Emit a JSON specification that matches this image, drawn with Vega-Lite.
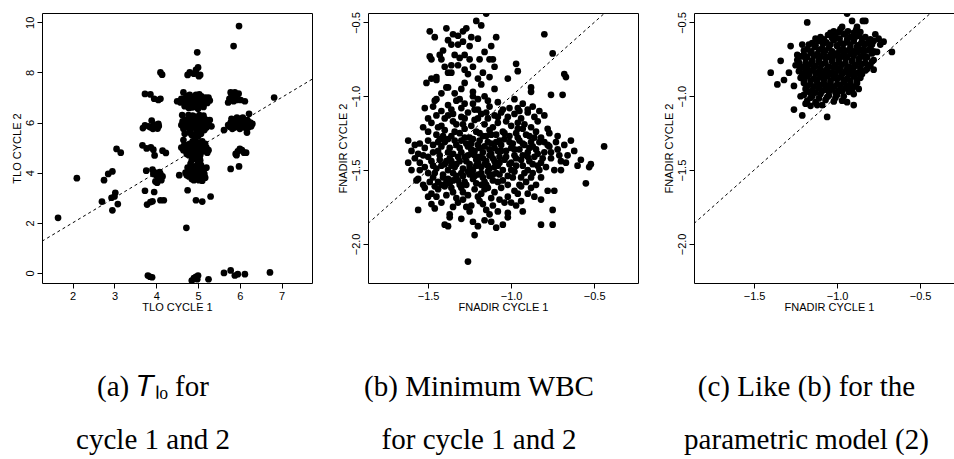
{
"$schema": "https://vega.github.io/schema/vega-lite/v6.json",
"padding": {"left": 10, "top": 11, "right": 0, "bottom": 0},
"background": "white",
"config": {
 "view": {"stroke": "black", "strokeWidth": 1},
 "axis": {"domain": false, "grid": false, "tickColor": "black", "tickSize": 5, "tickWidth": 1, "labelFont": "Liberation Sans", "labelFontSize": 11, "labelColor": "black", "titleFont": "Liberation Sans", "titleFontSize": 11, "titleFontWeight": "normal", "titleColor": "black", "labelFlush": false, "labelOverlap": false, "domainColor": "black", "domainWidth": 1},
 "axisX": {"labelPadding": 2.5, "titlePadding": 0, "labelAngle": 0},
 "axisY": {"labelAngle": -90, "labelAlign": "center", "labelBaseline": "bottom", "labelPadding": 2, "titlePadding": 1.5},
 "title": {"font": "Liberation Serif", "fontSize": 29, "fontWeight": "normal", "color": "black", "orient": "bottom", "anchor": "middle", "dx": -24, "offset": 60, "lineHeight": 53}
},
"datasets": {
 "a": [
{"x":1.65,"y":2.2},{"x":2.1,"y":3.78},{"x":2.7,"y":2.85},{"x":2.75,"y":3.7},{"x":2.85,"y":3.95},{"x":2.95,"y":4.05},{"x":2.95,"y":2.5},{"x":2.93,"y":3.0},{"x":3.0,"y":3.05},{"x":3.02,"y":3.2},{"x":3.05,"y":4.95},{"x":3.08,"y":2.75},{"x":3.15,"y":4.8},
{"x":3.73,"y":7.14},{"x":3.86,"y":7.12},{"x":3.95,"y":6.95},{"x":4.05,"y":6.9},{"x":4.1,"y":6.95},{"x":4.1,"y":8.0},{"x":4.14,"y":7.91},
{"x":3.68,"y":5.78},{"x":3.73,"y":5.89},{"x":3.86,"y":5.81},{"x":3.89,"y":6.08},{"x":3.92,"y":5.75},{"x":3.95,"y":5.92},{"x":4.03,"y":5.76},{"x":4.06,"y":5.86},{"x":3.99,"y":5.84},
{"x":3.67,"y":5.09},{"x":3.77,"y":4.97},{"x":3.87,"y":5.01},{"x":3.93,"y":4.92},{"x":3.96,"y":4.69},{"x":4.15,"y":4.88},{"x":4.23,"y":4.79},
{"x":3.76,"y":4.08},{"x":3.91,"y":4.12},{"x":3.95,"y":4.02},{"x":4.0,"y":3.9},{"x":4.02,"y":3.6},{"x":4.05,"y":3.85},{"x":4.1,"y":3.95},{"x":4.12,"y":3.7},{"x":4.15,"y":3.85},{"x":3.98,"y":3.65},{"x":4.08,"y":4.02},
{"x":3.73,"y":3.28},{"x":3.95,"y":3.23},{"x":3.78,"y":2.73},{"x":3.86,"y":2.83},{"x":3.91,"y":2.86},{"x":4.1,"y":2.9},{"x":4.18,"y":2.9},
{"x":3.8,"y":-0.1},{"x":3.85,"y":-0.15},{"x":3.9,"y":-0.17},
{"x":4.75,"y":7.9},{"x":4.8,"y":8.0},{"x":4.9,"y":7.95},{"x":4.95,"y":8.1},{"x":5.0,"y":8.2},{"x":5.02,"y":7.85},{"x":5.05,"y":7.9},{"x":4.98,"y":8.8},
{"x":4.5,"y":6.85},{"x":4.6,"y":6.95},{"x":4.65,"y":7.2},{"x":4.7,"y":6.8},{"x":4.72,"y":7.05},{"x":4.75,"y":6.9},{"x":4.78,"y":6.75},{"x":4.8,"y":7.1},{"x":4.82,"y":6.95},{"x":4.85,"y":6.85},{"x":4.88,"y":7.0},{"x":4.9,"y":6.7},{"x":4.92,"y":6.9},{"x":4.95,"y":7.1},{"x":4.97,"y":6.8},{"x":5.0,"y":7.0},{"x":5.02,"y":6.65},{"x":5.05,"y":6.9},{"x":5.08,"y":7.05},{"x":5.1,"y":6.8},{"x":5.12,"y":6.95},{"x":5.15,"y":6.75},{"x":5.18,"y":7.0},{"x":5.2,"y":6.9},{"x":5.25,"y":7.0},{"x":4.68,"y":6.65},{"x":4.85,"y":6.6},{"x":5.0,"y":6.55},{"x":5.05,"y":6.75},{"x":4.95,"y":6.95},
{"x":4.6,"y":5.9},{"x":4.62,"y":6.3},{"x":4.65,"y":5.75},{"x":4.7,"y":6.1},{"x":4.72,"y":5.95},{"x":4.75,"y":5.85},{"x":4.78,"y":6.2},{"x":4.8,"y":6.0},{"x":4.82,"y":5.7},{"x":4.85,"y":6.1},{"x":4.88,"y":5.9},{"x":4.9,"y":6.25},{"x":4.92,"y":5.8},{"x":4.95,"y":6.0},{"x":4.97,"y":5.65},{"x":5.0,"y":6.1},{"x":5.02,"y":5.9},{"x":5.05,"y":6.2},{"x":5.08,"y":5.75},{"x":5.1,"y":6.0},{"x":5.12,"y":5.85},{"x":5.15,"y":6.15},{"x":5.18,"y":5.95},{"x":5.2,"y":5.8},{"x":5.22,"y":6.1},{"x":5.25,"y":5.9},{"x":5.32,"y":5.85},{"x":4.68,"y":5.55},{"x":4.85,"y":5.5},{"x":5.0,"y":5.45},{"x":4.75,"y":6.0},{"x":4.9,"y":5.95},{"x":5.05,"y":6.05},{"x":5.15,"y":5.7},{"x":4.8,"y":5.6},
{"x":4.6,"y":5.0},{"x":4.65,"y":4.9},{"x":4.7,"y":5.1},{"x":4.72,"y":4.85},{"x":4.75,"y":5.0},{"x":4.78,"y":4.7},{"x":4.8,"y":5.15},{"x":4.82,"y":4.9},{"x":4.85,"y":5.05},{"x":4.88,"y":4.75},{"x":4.9,"y":5.2},{"x":4.92,"y":4.95},{"x":4.95,"y":4.8},{"x":4.97,"y":5.1},{"x":5.0,"y":4.9},{"x":5.02,"y":5.2},{"x":5.05,"y":4.7},{"x":5.08,"y":5.0},{"x":5.1,"y":4.85},{"x":5.12,"y":5.1},{"x":5.15,"y":4.95},{"x":5.2,"y":5.0},{"x":5.25,"y":4.9},{"x":4.85,"y":4.5},{"x":4.95,"y":4.55},{"x":5.0,"y":4.3},{"x":5.05,"y":4.5},{"x":4.65,"y":5.3},
{"x":4.55,"y":3.9},{"x":4.7,"y":4.0},{"x":4.75,"y":4.2},{"x":4.78,"y":3.85},{"x":4.8,"y":4.05},{"x":4.85,"y":3.75},{"x":4.88,"y":4.1},{"x":4.9,"y":3.9},{"x":4.92,"y":4.25},{"x":4.95,"y":3.8},{"x":5.0,"y":4.0},{"x":5.02,"y":3.7},{"x":5.05,"y":4.15},{"x":5.08,"y":3.9},{"x":5.1,"y":4.05},{"x":5.15,"y":3.95},{"x":5.2,"y":4.2},{"x":5.1,"y":3.68},{"x":4.82,"y":4.35},{"x":5.0,"y":4.45},
{"x":4.75,"y":3.3},{"x":4.95,"y":2.9},{"x":5.1,"y":2.85},{"x":5.3,"y":3.05},{"x":4.72,"y":1.8},
{"x":4.85,"y":-0.3},{"x":4.9,"y":-0.2},{"x":4.95,"y":-0.15},{"x":5.0,"y":-0.1},{"x":4.98,"y":-0.25},{"x":5.25,"y":-0.25},
{"x":5.85,"y":9.05},{"x":5.98,"y":9.85},
{"x":5.72,"y":6.8},{"x":5.78,"y":7.2},{"x":5.82,"y":7.0},{"x":5.85,"y":6.85},{"x":5.9,"y":7.05},{"x":5.97,"y":7.15},{"x":6.02,"y":6.9},{"x":6.12,"y":6.85},{"x":5.75,"y":6.95},
{"x":5.62,"y":5.7},{"x":5.75,"y":5.85},{"x":5.78,"y":6.0},{"x":5.8,"y":5.9},{"x":5.85,"y":6.1},{"x":5.88,"y":5.95},{"x":5.9,"y":6.05},{"x":5.95,"y":5.9},{"x":5.98,"y":6.15},{"x":6.0,"y":6.0},{"x":6.02,"y":5.85},{"x":6.05,"y":6.1},{"x":6.08,"y":5.95},{"x":6.1,"y":6.05},{"x":6.15,"y":5.9},{"x":6.18,"y":6.1},{"x":6.2,"y":5.8},{"x":6.22,"y":6.35},{"x":6.25,"y":6.0},{"x":6.3,"y":5.95},{"x":6.17,"y":5.6},{"x":5.82,"y":5.75},
{"x":5.9,"y":4.75},{"x":5.95,"y":4.85},{"x":6.0,"y":4.95},{"x":6.05,"y":4.9},{"x":6.1,"y":4.8},{"x":6.15,"y":4.8},{"x":5.92,"y":4.7},
{"x":5.78,"y":4.15},{"x":5.98,"y":4.25},
{"x":5.62,"y":0.0},{"x":5.78,"y":0.1},{"x":5.88,"y":-0.1},{"x":5.95,"y":-0.05},{"x":6.12,"y":-0.05},{"x":6.72,"y":0.02},{"x":6.82,"y":7.0},
{"x":4.58,"y":6.8},{"x":4.66,"y":6.88},{"x":4.74,"y":7.0},{"x":4.86,"y":6.78},{"x":4.93,"y":6.62},{"x":5.03,"y":7.12},{"x":5.13,"y":6.62},{"x":5.22,"y":6.78},{"x":5.28,"y":6.88},{"x":4.78,"y":6.58},
{"x":4.63,"y":6.05},{"x":4.7,"y":5.8},{"x":4.77,"y":6.3},{"x":4.83,"y":5.85},{"x":4.87,"y":6.28},{"x":4.93,"y":6.12},{"x":4.98,"y":5.78},{"x":5.03,"y":6.3},{"x":5.07,"y":5.92},{"x":5.13,"y":6.28},{"x":5.17,"y":5.82},{"x":5.23,"y":6.0},{"x":5.28,"y":6.1},{"x":4.95,"y":5.55},{"x":5.07,"y":5.55},
{"x":4.67,"y":5.1},{"x":4.73,"y":4.75},{"x":4.8,"y":4.85},{"x":4.87,"y":5.25},{"x":4.9,"y":4.6},{"x":4.97,"y":4.98},{"x":5.03,"y":5.0},{"x":5.07,"y":4.85},{"x":5.1,"y":5.25},{"x":5.17,"y":5.15},{"x":5.22,"y":4.8},{"x":4.93,"y":5.35},{"x":5.03,"y":4.6},
{"x":4.73,"y":3.9},{"x":4.83,"y":4.18},{"x":4.87,"y":3.95},{"x":4.93,"y":4.05},{"x":4.97,"y":4.2},{"x":5.03,"y":3.85},{"x":5.07,"y":4.3},{"x":5.13,"y":4.12},{"x":5.17,"y":3.8},{"x":4.9,"y":3.7},
{"x":5.8,"y":6.15},{"x":5.87,"y":5.8},{"x":5.93,"y":6.2},{"x":6.03,"y":5.95},{"x":6.07,"y":6.2},{"x":6.12,"y":5.8},{"x":6.22,"y":6.0},{"x":6.27,"y":5.85},{"x":5.72,"y":5.9},{"x":5.95,"y":6.05},{"x":6.0,"y":5.75},
{"x":5.8,"y":7.05},{"x":5.93,"y":6.9},{"x":5.88,"y":7.2},{"x":4.05,"y":5.95},{"x":3.82,"y":5.85},{"x":4.05,"y":3.75},{"x":3.93,"y":3.95}
 ],
 "b": [
{"x":-1.15,"y":-0.44},{"x":-1.49,"y":-0.56},{"x":-1.39,"y":-0.54},{"x":-1.32,"y":-0.59},{"x":-1.27,"y":-0.54},{"x":-1.21,"y":-0.49},{"x":-1.18,"y":-0.52},{"x":-1.29,"y":-0.56},{"x":-1.24,"y":-0.6},{"x":-1.2,"y":-0.61},{"x":-1.32,"y":-0.65},{"x":-1.36,"y":-0.65},{"x":-1.38,"y":-0.62},{"x":-1.29,"y":-0.63},{"x":-1.12,"y":-0.66},{"x":-1.09,"y":-0.6},{"x":-0.8,"y":-0.58},
{"x":-1.43,"y":-0.72},{"x":-1.42,"y":-0.75},{"x":-1.49,"y":-0.73},{"x":-1.48,"y":-0.75},{"x":-1.41,"y":-0.69},{"x":-1.34,"y":-0.72},{"x":-1.31,"y":-0.74},{"x":-1.28,"y":-0.72},{"x":-1.25,"y":-0.75},{"x":-1.19,"y":-0.75},{"x":-1.13,"y":-0.75},{"x":-1.11,"y":-0.75},{"x":-0.75,"y":-0.71},{"x":-0.97,"y":-0.78},
{"x":-1.36,"y":-0.79},{"x":-1.32,"y":-0.79},{"x":-1.23,"y":-0.8},{"x":-1.1,"y":-0.8},{"x":-0.96,"y":-0.83},{"x":-1.51,"y":-0.91},{"x":-1.48,"y":-0.88},{"x":-1.45,"y":-0.87},{"x":-1.45,"y":-0.89},{"x":-1.38,"y":-0.84},{"x":-1.36,"y":-0.84},{"x":-1.26,"y":-0.85},{"x":-1.2,"y":-0.88},{"x":-1.17,"y":-0.84},{"x":-1.13,"y":-0.87},{"x":-1.02,"y":-0.88},{"x":-1.28,"y":-0.91},{"x":-0.68,"y":-0.85},{"x":-0.67,"y":-0.87},
{"x":-1.39,"y":-0.94},{"x":-1.38,"y":-0.94},{"x":-1.23,"y":-0.97},{"x":-1.34,"y":-0.98},{"x":-0.88,"y":-0.97},{"x":-0.88,"y":-0.94},{"x":-0.76,"y":-0.99},{"x":-0.69,"y":-0.99},{"x":-1.45,"y":-1.02},{"x":-1.46,"y":-1.03},{"x":-1.23,"y":-1.0},{"x":-1.16,"y":-1.0},{"x":-1.31,"y":-1.02},{"x":-1.28,"y":-1.05},{"x":-1.38,"y":-1.06},{"x":-1.14,"y":-1.03},{"x":-1.23,"y":-1.05},{"x":-1.52,"y":-1.08},{"x":-1.36,"y":-1.09},{"x":-1.3,"y":-1.08},{"x":-1.2,"y":-1.09},{"x":-1.13,"y":-1.07},{"x":-0.93,"y":-1.05},{"x":-1.05,"y":-1.09},{"x":-1.01,"y":-1.08},{"x":-0.96,"y":-1.08},{"x":-0.9,"y":-1.09},
{"x":-1.45,"y":-1.13},{"x":-1.4,"y":-1.15},{"x":-1.35,"y":-1.12},{"x":-1.3,"y":-1.14},{"x":-1.26,"y":-1.11},{"x":-1.22,"y":-1.16},{"x":-1.18,"y":-1.12},{"x":-1.14,"y":-1.15},{"x":-1.1,"y":-1.13},{"x":-1.06,"y":-1.11},{"x":-1.02,"y":-1.14},{"x":-0.98,"y":-1.12},{"x":-0.94,"y":-1.15},{"x":-0.9,"y":-1.11},{"x":-0.86,"y":-1.14},{"x":-0.8,"y":-1.13},{"x":-1.48,"y":-1.18},{"x":-1.33,"y":-1.19},{"x":-1.24,"y":-1.2},{"x":-1.16,"y":-1.19},{"x":-1.08,"y":-1.18},{"x":-1.0,"y":-1.2},{"x":-0.92,"y":-1.19},{"x":-0.84,"y":-1.17},{"x":-1.53,"y":-1.21},{"x":-1.42,"y":-1.2},{"x":-0.78,"y":-1.22},{"x":-0.77,"y":-1.25},
{"x":-1.5,"y":-1.24},{"x":-1.45,"y":-1.26},{"x":-1.4,"y":-1.23},{"x":-1.36,"y":-1.27},{"x":-1.31,"y":-1.25},{"x":-1.28,"y":-1.22},{"x":-1.25,"y":-1.28},{"x":-1.21,"y":-1.24},{"x":-1.17,"y":-1.27},{"x":-1.13,"y":-1.23},{"x":-1.09,"y":-1.26},{"x":-1.05,"y":-1.24},{"x":-1.01,"y":-1.27},{"x":-0.97,"y":-1.25},{"x":-0.93,"y":-1.22},{"x":-0.89,"y":-1.27},{"x":-0.85,"y":-1.24},{"x":-0.82,"y":-1.28},{"x":-1.43,"y":-1.29},{"x":-1.19,"y":-1.3},{"x":-1.07,"y":-1.3},{"x":-0.95,"y":-1.3},
{"x":-1.62,"y":-1.3},{"x":-1.55,"y":-1.32},{"x":-1.52,"y":-1.35},{"x":-1.47,"y":-1.33},{"x":-1.44,"y":-1.37},{"x":-1.4,"y":-1.31},{"x":-1.37,"y":-1.35},{"x":-1.33,"y":-1.33},{"x":-1.3,"y":-1.38},{"x":-1.27,"y":-1.32},{"x":-1.24,"y":-1.36},{"x":-1.2,"y":-1.33},{"x":-1.17,"y":-1.38},{"x":-1.14,"y":-1.31},{"x":-1.1,"y":-1.35},{"x":-1.06,"y":-1.33},{"x":-1.03,"y":-1.37},{"x":-0.99,"y":-1.32},{"x":-0.95,"y":-1.36},{"x":-0.92,"y":-1.33},{"x":-0.88,"y":-1.31},{"x":-0.85,"y":-1.36},{"x":-0.8,"y":-1.31},{"x":-0.77,"y":-1.34},{"x":-0.73,"y":-1.31},{"x":-0.68,"y":-1.33},{"x":-0.64,"y":-1.3},{"x":-0.44,"y":-1.34},{"x":-1.6,"y":-1.37},{"x":-1.35,"y":-1.39},{"x":-1.22,"y":-1.4},{"x":-1.12,"y":-1.39},{"x":-0.98,"y":-1.4},{"x":-0.9,"y":-1.38},
{"x":-1.58,"y":-1.42},{"x":-1.55,"y":-1.45},{"x":-1.5,"y":-1.41},{"x":-1.47,"y":-1.47},{"x":-1.43,"y":-1.43},{"x":-1.4,"y":-1.46},{"x":-1.37,"y":-1.42},{"x":-1.34,"y":-1.48},{"x":-1.31,"y":-1.44},{"x":-1.28,"y":-1.41},{"x":-1.25,"y":-1.46},{"x":-1.21,"y":-1.43},{"x":-1.18,"y":-1.48},{"x":-1.15,"y":-1.44},{"x":-1.11,"y":-1.42},{"x":-1.08,"y":-1.47},{"x":-1.04,"y":-1.43},{"x":-1.01,"y":-1.46},{"x":-0.97,"y":-1.42},{"x":-0.93,"y":-1.47},{"x":-0.89,"y":-1.44},{"x":-0.86,"y":-1.41},{"x":-0.82,"y":-1.45},{"x":-0.76,"y":-1.42},{"x":-0.71,"y":-1.4},{"x":-0.7,"y":-1.44},{"x":-0.67,"y":-1.45},{"x":-0.6,"y":-1.47},{"x":-0.52,"y":-1.46},{"x":-1.45,"y":-1.49},{"x":-1.38,"y":-1.5},{"x":-1.23,"y":-1.5},{"x":-1.13,"y":-1.49},{"x":-1.0,"y":-1.5},
{"x":-1.62,"y":-1.45},{"x":-1.56,"y":-1.56},{"x":-1.5,"y":-1.52},{"x":-1.47,"y":-1.55},{"x":-1.44,"y":-1.58},{"x":-1.41,"y":-1.53},{"x":-1.38,"y":-1.56},{"x":-1.35,"y":-1.52},{"x":-1.32,"y":-1.57},{"x":-1.29,"y":-1.54},{"x":-1.26,"y":-1.51},{"x":-1.23,"y":-1.56},{"x":-1.2,"y":-1.53},{"x":-1.16,"y":-1.58},{"x":-1.13,"y":-1.54},{"x":-1.09,"y":-1.52},{"x":-1.05,"y":-1.57},{"x":-1.02,"y":-1.54},{"x":-0.98,"y":-1.51},{"x":-0.94,"y":-1.55},{"x":-0.91,"y":-1.58},{"x":-0.87,"y":-1.52},{"x":-0.82,"y":-1.55},{"x":-0.74,"y":-1.5},{"x":-0.53,"y":-1.48},{"x":-0.55,"y":-1.59},{"x":-1.57,"y":-1.57},{"x":-1.42,"y":-1.6},{"x":-1.31,"y":-1.6},{"x":-1.18,"y":-1.6},
{"x":-1.52,"y":-1.62},{"x":-1.48,"y":-1.66},{"x":-1.44,"y":-1.63},{"x":-1.4,"y":-1.61},{"x":-1.35,"y":-1.65},{"x":-1.3,"y":-1.62},{"x":-1.26,"y":-1.67},{"x":-1.22,"y":-1.63},{"x":-1.18,"y":-1.66},{"x":-1.14,"y":-1.62},{"x":-1.1,"y":-1.65},{"x":-1.06,"y":-1.62},{"x":-1.02,"y":-1.68},{"x":-0.98,"y":-1.64},{"x":-0.94,"y":-1.61},{"x":-0.9,"y":-1.66},{"x":-1.5,"y":-1.68},{"x":-1.33,"y":-1.69},{"x":-0.78,"y":-1.64},{"x":-0.74,"y":-1.64},
{"x":-1.56,"y":-1.77},{"x":-1.48,"y":-1.73},{"x":-1.46,"y":-1.76},{"x":-1.37,"y":-1.8},{"x":-1.32,"y":-1.72},{"x":-1.27,"y":-1.75},{"x":-1.24,"y":-1.74},{"x":-1.19,"y":-1.71},{"x":-1.15,"y":-1.77},{"x":-1.11,"y":-1.74},{"x":-1.08,"y":-1.78},{"x":-1.04,"y":-1.72},{"x":-0.97,"y":-1.74},{"x":-0.94,"y":-1.71},{"x":-0.82,"y":-1.7},{"x":-0.75,"y":-1.77},{"x":-1.02,"y":-1.79},
{"x":-1.37,"y":-1.82},{"x":-1.4,"y":-1.87},{"x":-1.38,"y":-1.88},{"x":-1.23,"y":-1.85},{"x":-1.2,"y":-1.88},{"x":-1.12,"y":-1.85},{"x":-1.09,"y":-1.89},{"x":-1.02,"y":-1.82},{"x":-1.05,"y":-1.87},{"x":-0.82,"y":-1.87},{"x":-0.75,"y":-1.87},{"x":-1.22,"y":-1.94},{"x":-1.26,"y":-2.12},
{"x":-1.43,"y":-1.4},{"x":-1.39,"y":-1.44},{"x":-1.36,"y":-1.47},{"x":-1.32,"y":-1.41},{"x":-1.29,"y":-1.49},{"x":-1.27,"y":-1.44},{"x":-1.24,"y":-1.39},{"x":-1.21,"y":-1.47},{"x":-1.19,"y":-1.41},{"x":-1.16,"y":-1.46},{"x":-1.13,"y":-1.4},{"x":-1.1,"y":-1.48},{"x":-1.07,"y":-1.41},{"x":-1.41,"y":-1.55},{"x":-1.37,"y":-1.59},{"x":-1.33,"y":-1.54},{"x":-1.28,"y":-1.58},{"x":-1.25,"y":-1.53},{"x":-1.21,"y":-1.59},{"x":-1.17,"y":-1.55},{"x":-1.14,"y":-1.51},{"x":-1.11,"y":-1.57},{"x":-1.07,"y":-1.53},{"x":-1.42,"y":-1.34},{"x":-1.38,"y":-1.29},{"x":-1.34,"y":-1.24},{"x":-1.3,"y":-1.3},{"x":-1.26,"y":-1.34},{"x":-1.23,"y":-1.29},{"x":-1.19,"y":-1.35},{"x":-1.15,"y":-1.27},{"x":-1.12,"y":-1.32},{"x":-1.08,"y":-1.37},{"x":-1.04,"y":-1.29},{"x":-1.0,"y":-1.35},{"x":-0.96,"y":-1.28},{"x":-0.93,"y":-1.4},{"x":-0.9,"y":-1.5},{"x":-0.87,"y":-1.34},{"x":-0.84,"y":-1.47},{"x":-0.8,"y":-1.38},{"x":-1.46,"y":-1.61},{"x":-1.39,"y":-1.67},{"x":-1.36,"y":-1.62},{"x":-1.29,"y":-1.65},{"x":-1.2,"y":-1.68},{"x":-1.16,"y":-1.63},{"x":-1.12,"y":-1.69},{"x":-1.53,"y":-1.4},{"x":-1.55,"y":-1.5},{"x":-1.49,"y":-1.58},{"x":-1.52,"y":-1.48},{"x":-1.47,"y":-1.38},{"x":-1.5,"y":-1.3},{"x":-1.44,"y":-1.21},{"x":-1.35,"y":-1.17},{"x":-1.29,"y":-1.19},{"x":-1.2,"y":-1.15},{"x":-1.11,"y":-1.21},{"x":-1.03,"y":-1.17},{"x":-0.96,"y":-1.18},{"x":-0.88,"y":-1.21},{"x":-0.83,"y":-1.31},
{"x":-1.46,"y":-0.6},{"x":-1.35,"y":-0.58},{"x":-1.25,"y":-0.66},{"x":-1.16,"y":-0.7},{"x":-1.4,"y":-0.8},{"x":-1.28,"y":-0.82},{"x":-1.18,"y":-0.92},{"x":-1.1,"y":-0.95},{"x":-1.42,"y":-0.98},{"x":-1.3,"y":-0.95},{"x":-1.2,"y":-1.02},{"x":-1.08,"y":-1.04},{"x":-0.98,"y":-1.02},{"x":-1.47,"y":-1.07},{"x":-1.42,"y":-1.1},{"x":-1.33,"y":-1.03},
{"x":-1.58,"y":-1.33},{"x":-1.56,"y":-1.39},{"x":-1.6,"y":-1.5},{"x":-1.53,"y":-1.6},{"x":-1.48,"y":-1.44},{"x":-1.46,"y":-1.52},{"x":-1.44,"y":-1.31},{"x":-1.42,"y":-1.47},{"x":-1.41,"y":-1.27},{"x":-1.39,"y":-1.58},{"x":-1.38,"y":-1.38},{"x":-1.36,"y":-1.44},{"x":-1.35,"y":-1.57},{"x":-1.34,"y":-1.3},{"x":-1.33,"y":-1.46},{"x":-1.31,"y":-1.35},{"x":-1.3,"y":-1.52},{"x":-1.28,"y":-1.28},{"x":-1.27,"y":-1.6},{"x":-1.26,"y":-1.4},{"x":-1.25,"y":-1.48},{"x":-1.24,"y":-1.32},{"x":-1.22,"y":-1.54},{"x":-1.22,"y":-1.37},{"x":-1.2,"y":-1.45},{"x":-1.19,"y":-1.25},{"x":-1.18,"y":-1.52},{"x":-1.17,"y":-1.42},{"x":-1.16,"y":-1.34},{"x":-1.15,"y":-1.6},{"x":-1.14,"y":-1.47},{"x":-1.13,"y":-1.36},{"x":-1.12,"y":-1.26},{"x":-1.11,"y":-1.53},{"x":-1.1,"y":-1.44},{"x":-1.09,"y":-1.31},{"x":-1.08,"y":-1.58},{"x":-1.07,"y":-1.45},{"x":-1.06,"y":-1.37},{"x":-1.05,"y":-1.5},{"x":-1.04,"y":-1.25},{"x":-1.03,"y":-1.41},{"x":-1.02,"y":-1.6},{"x":-1.01,"y":-1.31},{"x":-1.0,"y":-1.45},{"x":-0.99,"y":-1.55},{"x":-0.98,"y":-1.36},{"x":-0.97,"y":-1.47},{"x":-0.96,"y":-1.22},{"x":-0.95,"y":-1.6},{"x":-0.94,"y":-1.43},{"x":-0.93,"y":-1.32},{"x":-0.92,"y":-1.52},{"x":-0.91,"y":-1.26},{"x":-0.9,"y":-1.41},{"x":-0.89,"y":-1.35},{"x":-0.88,"y":-1.55},{"x":-0.87,"y":-1.46},{"x":-0.86,"y":-1.28},{"x":-0.85,"y":-1.6},{"x":-0.84,"y":-1.39},{"x":-0.83,"y":-1.5},{"x":-0.81,"y":-1.42},{"x":-0.79,"y":-1.48},{"x":-0.78,"y":-1.33},{"x":-0.76,"y":-1.38},{"x":-0.72,"y":-1.36},{"x":-0.7,"y":-1.5},{"x":-0.66,"y":-1.4},
{"x":-1.45,"y":-1.68},{"x":-1.42,"y":-1.72},{"x":-1.35,"y":-1.75},{"x":-1.29,"y":-1.7},{"x":-1.25,"y":-1.78},{"x":-1.17,"y":-1.73},{"x":-1.13,"y":-1.8},{"x":-1.07,"y":-1.7},{"x":-1.0,"y":-1.72},{"x":-0.96,"y":-1.66},{"x":-0.88,"y":-1.62},{"x":-0.86,"y":-1.68},{"x":-1.3,"y":-1.83},{"x":-1.16,"y":-1.84},{"x":-0.93,"y":-1.78},
{"x":-1.5,"y":-1.15},{"x":-1.38,"y":-1.13},{"x":-1.28,"y":-1.15},{"x":-1.22,"y":-1.09},{"x":-1.15,"y":-1.11},{"x":-1.08,"y":-1.14},{"x":-0.95,"y":-1.1},{"x":-0.87,"y":-1.07},{"x":-0.83,"y":-1.1},{"x":-0.72,"y":-1.27},{"x":-0.62,"y":-1.37},{"x":-0.58,"y":-1.43}
 ],
 "c": [
{"x":-1.02,"y":-0.56},{"x":-0.98,"y":-0.545},{"x":-0.935,"y":-0.56},{"x":-0.885,"y":-0.55},
{"x":-1.1,"y":-0.6},{"x":-1.055,"y":-0.585},{"x":-1.01,"y":-0.595},{"x":-0.96,"y":-0.58},{"x":-0.92,"y":-0.6},{"x":-0.87,"y":-0.59},{"x":-0.83,"y":-0.6},
{"x":-1.15,"y":-0.64},{"x":-1.11,"y":-0.625},{"x":-1.065,"y":-0.635},{"x":-1.02,"y":-0.62},{"x":-0.98,"y":-0.64},{"x":-0.94,"y":-0.63},{"x":-0.9,"y":-0.625},{"x":-0.855,"y":-0.64},{"x":-0.81,"y":-0.63},{"x":-0.78,"y":-0.625},
{"x":-1.18,"y":-0.68},{"x":-1.135,"y":-0.665},{"x":-1.09,"y":-0.675},{"x":-1.05,"y":-0.67},{"x":-1.0,"y":-0.66},{"x":-0.965,"y":-0.68},{"x":-0.92,"y":-0.67},{"x":-0.88,"y":-0.665},{"x":-0.84,"y":-0.68},{"x":-0.8,"y":-0.67},
{"x":-1.2,"y":-0.72},{"x":-1.16,"y":-0.705},{"x":-1.12,"y":-0.715},{"x":-1.08,"y":-0.7},{"x":-1.04,"y":-0.72},{"x":-1.0,"y":-0.71},{"x":-0.96,"y":-0.705},{"x":-0.92,"y":-0.715},{"x":-0.88,"y":-0.7},{"x":-0.84,"y":-0.72},{"x":-0.79,"y":-0.71},
{"x":-1.24,"y":-0.755},{"x":-1.19,"y":-0.745},{"x":-1.15,"y":-0.76},{"x":-1.11,"y":-0.75},{"x":-1.07,"y":-0.74},{"x":-1.03,"y":-0.755},{"x":-0.99,"y":-0.75},{"x":-0.95,"y":-0.745},{"x":-0.91,"y":-0.76},{"x":-0.87,"y":-0.75},{"x":-0.83,"y":-0.74},{"x":-0.78,"y":-0.755},
{"x":-1.25,"y":-0.79},{"x":-1.21,"y":-0.8},{"x":-1.17,"y":-0.785},{"x":-1.13,"y":-0.795},{"x":-1.09,"y":-0.78},{"x":-1.05,"y":-0.8},{"x":-1.01,"y":-0.79},{"x":-0.97,"y":-0.785},{"x":-0.93,"y":-0.8},{"x":-0.89,"y":-0.79},{"x":-0.85,"y":-0.78},{"x":-0.8,"y":-0.795},
{"x":-1.23,"y":-0.83},{"x":-1.19,"y":-0.84},{"x":-1.15,"y":-0.825},{"x":-1.11,"y":-0.835},{"x":-1.07,"y":-0.83},{"x":-1.03,"y":-0.84},{"x":-0.99,"y":-0.825},{"x":-0.95,"y":-0.835},{"x":-0.91,"y":-0.83},{"x":-0.87,"y":-0.84},{"x":-0.83,"y":-0.825},
{"x":-1.22,"y":-0.875},{"x":-1.18,"y":-0.865},{"x":-1.14,"y":-0.88},{"x":-1.1,"y":-0.87},{"x":-1.06,"y":-0.865},{"x":-1.02,"y":-0.875},{"x":-0.98,"y":-0.87},{"x":-0.94,"y":-0.88},{"x":-0.9,"y":-0.865},{"x":-0.86,"y":-0.875},
{"x":-1.2,"y":-0.91},{"x":-1.16,"y":-0.92},{"x":-1.12,"y":-0.905},{"x":-1.08,"y":-0.915},{"x":-1.04,"y":-0.91},{"x":-1.0,"y":-0.92},{"x":-0.96,"y":-0.905},{"x":-0.92,"y":-0.915},{"x":-0.88,"y":-0.91},
{"x":-1.19,"y":-0.95},{"x":-1.15,"y":-0.96},{"x":-1.11,"y":-0.945},{"x":-1.07,"y":-0.955},{"x":-1.03,"y":-0.95},{"x":-0.99,"y":-0.96},{"x":-0.95,"y":-0.945},{"x":-0.91,"y":-0.955},{"x":-0.87,"y":-0.95},
{"x":-1.2,"y":-0.99},{"x":-1.15,"y":-1.0},{"x":-1.1,"y":-0.985},{"x":-1.05,"y":-0.995},{"x":-1.0,"y":-0.99},{"x":-0.96,"y":-1.0},{"x":-0.9,"y":-0.985},
{"x":-1.18,"y":-1.03},{"x":-1.13,"y":-1.04},{"x":-1.07,"y":-1.025},{"x":-1.02,"y":-1.035},{"x":-0.97,"y":-1.03},{"x":-1.16,"y":-1.065},{"x":-1.09,"y":-1.06},
{"x":-1.4,"y":-0.84},{"x":-1.36,"y":-0.92},{"x":-1.32,"y":-0.89},{"x":-1.34,"y":-0.76},{"x":-1.28,"y":-0.66},{"x":-1.21,"y":-0.65},{"x":-1.18,"y":-0.5},{"x":-1.29,"y":-0.84},{"x":-1.26,"y":-1.09},{"x":-1.21,"y":-1.13},{"x":-1.06,"y":-1.14},{"x":-0.9,"y":-1.06},{"x":-0.94,"y":-0.44},{"x":-0.67,"y":-0.7},{"x":-0.75,"y":-0.61},{"x":-0.74,"y":-0.65},{"x":-0.77,"y":-0.58},{"x":-0.83,"y":-0.49},{"x":-0.845,"y":-0.49},{"x":-0.91,"y":-0.49},{"x":-0.97,"y":-0.53},{"x":-0.81,"y":-0.79},{"x":-0.72,"y":-0.63},{"x":-0.88,"y":-0.53},{"x":-1.24,"y":-0.72},{"x":-1.26,"y":-0.93},{"x":-1.22,"y":-1.0},{"x":-1.19,"y":-1.05},{"x":-1.12,"y":-1.06},{"x":-0.94,"y":-1.04},{"x":-0.76,"y":-0.7},{"x":-0.78,"y":-0.82},
{"x":-1.04,"y":-0.57},{"x":-0.99,"y":-0.565},{"x":-0.95,"y":-0.575},{"x":-0.9,"y":-0.57},{"x":-0.86,"y":-0.565},
{"x":-1.13,"y":-0.61},{"x":-1.08,"y":-0.615},{"x":-1.03,"y":-0.605},{"x":-0.985,"y":-0.61},{"x":-0.94,"y":-0.615},{"x":-0.895,"y":-0.605},{"x":-0.85,"y":-0.61},{"x":-0.8,"y":-0.615},
{"x":-1.17,"y":-0.65},{"x":-1.13,"y":-0.655},{"x":-1.085,"y":-0.645},{"x":-1.04,"y":-0.65},{"x":-1.0,"y":-0.655},{"x":-0.96,"y":-0.645},{"x":-0.92,"y":-0.65},{"x":-0.875,"y":-0.655},{"x":-0.83,"y":-0.645},{"x":-0.79,"y":-0.65},
{"x":-1.2,"y":-0.69},{"x":-1.155,"y":-0.695},{"x":-1.11,"y":-0.685},{"x":-1.07,"y":-0.69},{"x":-1.03,"y":-0.695},{"x":-0.985,"y":-0.685},{"x":-0.94,"y":-0.69},{"x":-0.9,"y":-0.695},{"x":-0.86,"y":-0.685},{"x":-0.82,"y":-0.69},{"x":-0.78,"y":-0.695},
{"x":-1.22,"y":-0.73},{"x":-1.18,"y":-0.735},{"x":-1.14,"y":-0.725},{"x":-1.1,"y":-0.73},{"x":-1.06,"y":-0.735},{"x":-1.02,"y":-0.725},{"x":-0.98,"y":-0.73},{"x":-0.94,"y":-0.735},{"x":-0.9,"y":-0.725},{"x":-0.86,"y":-0.73},{"x":-0.82,"y":-0.735},
{"x":-1.23,"y":-0.77},{"x":-1.19,"y":-0.775},{"x":-1.15,"y":-0.765},{"x":-1.11,"y":-0.77},{"x":-1.07,"y":-0.775},{"x":-1.03,"y":-0.765},{"x":-0.99,"y":-0.77},{"x":-0.95,"y":-0.775},{"x":-0.91,"y":-0.765},{"x":-0.87,"y":-0.77},{"x":-0.83,"y":-0.775},{"x":-0.79,"y":-0.765},
{"x":-1.22,"y":-0.81},{"x":-1.18,"y":-0.815},{"x":-1.14,"y":-0.805},{"x":-1.1,"y":-0.81},{"x":-1.06,"y":-0.815},{"x":-1.02,"y":-0.805},{"x":-0.98,"y":-0.81},{"x":-0.94,"y":-0.815},{"x":-0.9,"y":-0.805},{"x":-0.86,"y":-0.81},{"x":-0.82,"y":-0.815},
{"x":-1.21,"y":-0.85},{"x":-1.17,"y":-0.855},{"x":-1.13,"y":-0.845},{"x":-1.09,"y":-0.85},{"x":-1.05,"y":-0.855},{"x":-1.01,"y":-0.845},{"x":-0.97,"y":-0.85},{"x":-0.93,"y":-0.855},{"x":-0.89,"y":-0.845},{"x":-0.85,"y":-0.85},
{"x":-1.2,"y":-0.89},{"x":-1.16,"y":-0.895},{"x":-1.12,"y":-0.885},{"x":-1.08,"y":-0.89},{"x":-1.04,"y":-0.895},{"x":-1.0,"y":-0.885},{"x":-0.96,"y":-0.89},{"x":-0.92,"y":-0.895},{"x":-0.88,"y":-0.885},
{"x":-1.18,"y":-0.93},{"x":-1.14,"y":-0.935},{"x":-1.1,"y":-0.925},{"x":-1.06,"y":-0.93},{"x":-1.02,"y":-0.935},{"x":-0.98,"y":-0.925},{"x":-0.94,"y":-0.93},{"x":-0.9,"y":-0.935},
{"x":-1.17,"y":-0.97},{"x":-1.13,"y":-0.975},{"x":-1.09,"y":-0.965},{"x":-1.05,"y":-0.97},{"x":-1.01,"y":-0.975},{"x":-0.97,"y":-0.965},{"x":-0.93,"y":-0.97},
{"x":-1.16,"y":-1.01},{"x":-1.11,"y":-1.015},{"x":-1.06,"y":-1.005},{"x":-1.01,"y":-1.01}
 ],
 "la": [{"x":1.266,"y":1.266},{"x":7.726,"y":7.726}],
 "lb": [{"x":-1.862,"y":-1.862},{"x":-0.236,"y":-0.236}]
},
"bounds": "flush",
"spacing": 56,
"hconcat": [
 {
  "width": 270, "height": 270,
  "title": {"text": ["(a) 𝑇ₗₒ for", "cycle 1 and 2"]},
  "encoding": {
   "x": {"field": "x", "type": "quantitative", "scale": {"domain": [1.266, 7.726], "nice": false, "zero": false}, "axis": {"title": "TLO CYCLE 1", "values": [2,3,4,5,6,7]}},
   "y": {"field": "y", "type": "quantitative", "scale": {"domain": [-0.4, 10.37], "nice": false, "zero": false}, "axis": {"title": "TLO CYCLE 2", "values": [0,2,4,6,8,10]}}
  },
  "layer": [
   {"data": {"name": "a"}, "mark": {"type": "circle", "size": 45, "color": "black", "opacity": 1, "clip": true}},
   {"data": {"name": "la"}, "mark": {"type": "line", "color": "black", "strokeWidth": 1, "strokeDash": [3,3], "clip": true}}
  ]
 },
 {
  "width": 270, "height": 270,
  "title": {"text": ["(b) Minimum WBC", "for cycle 1 and 2"]},
  "encoding": {
   "x": {"field": "x", "type": "quantitative", "scale": {"domain": [-1.862, -0.236], "nice": false, "zero": false}, "axis": {"title": "FNADIR CYCLE 1", "values": [-1.5,-1.0,-0.5], "format": ".1f"}},
   "y": {"field": "y", "type": "quantitative", "scale": {"domain": [-2.265, -0.436], "nice": false, "zero": false}, "axis": {"title": "FNADIR CYCLE 2", "values": [-2.0,-1.5,-1.0,-0.5], "format": ".1f"}}
  },
  "layer": [
   {"data": {"name": "b"}, "mark": {"type": "circle", "size": 45, "color": "black", "opacity": 1, "clip": true}},
   {"data": {"name": "lb"}, "mark": {"type": "line", "color": "black", "strokeWidth": 1, "strokeDash": [3,3], "clip": true}}
  ]
 },
 {
  "width": 261, "height": 270,
  "view": {"stroke": null},
  "title": {"text": ["(c) Like (b) for the", "parametric model (2)"], "dx": -18},
  "resolve": {"axis": {"x": "independent"}},
  "layer": [
   {"data": {"name": "c"}, "mark": {"type": "circle", "size": 45, "color": "black", "opacity": 1, "clip": true},
    "encoding": {
     "x": {"field": "x", "type": "quantitative", "scale": {"domain": [-1.862, -0.29], "nice": false, "zero": false}, "axis": {"title": "FNADIR CYCLE 1", "values": [-1.5,-1.0,-0.5], "format": ".1f", "domain": true, "titleX": 135}},
     "y": {"field": "y", "type": "quantitative", "scale": {"domain": [-2.265, -0.436], "nice": false, "zero": false}, "axis": {"title": "FNADIR CYCLE 2", "values": [-2.0,-1.5,-1.0,-0.5], "format": ".1f", "domain": true}}
    }},
   {"data": {"name": "lb"}, "mark": {"type": "line", "color": "black", "strokeWidth": 1, "strokeDash": [3,3], "clip": true},
    "encoding": {
     "x": {"field": "x", "type": "quantitative", "axis": {"orient": "top", "title": null, "labels": false, "ticks": false, "domain": true}},
     "y": {"field": "y", "type": "quantitative", "axis": {"title": "FNADIR CYCLE 2", "values": [-2.0,-1.5,-1.0,-0.5], "format": ".1f", "domain": true}}
    }}
  ]
 }
]
}
